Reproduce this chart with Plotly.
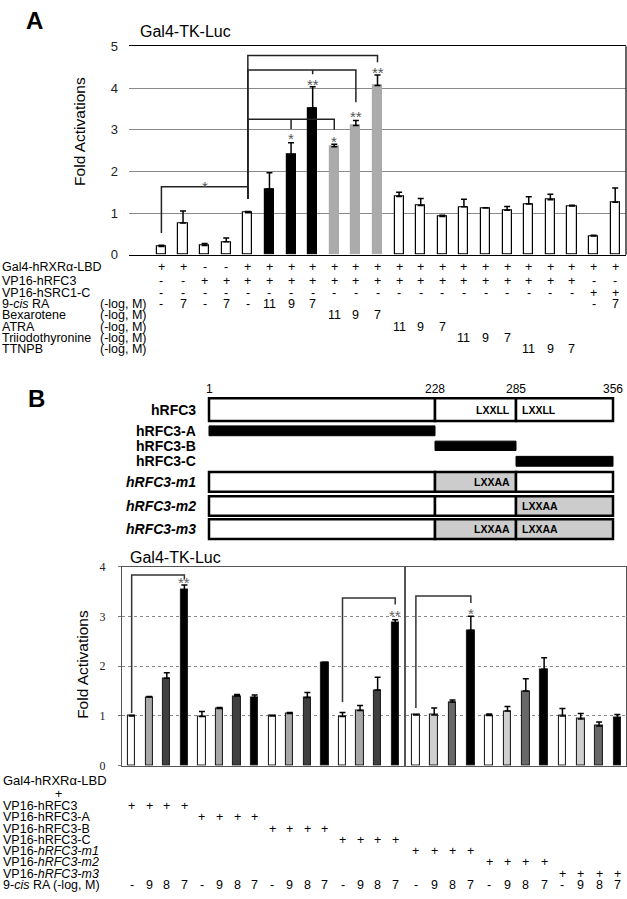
import plotly.graph_objects as go

W, H = 627, 899
FONT = "Liberation Sans, Arial, Helvetica, sans-serif"
SERIF = "Liberation Serif, Times New Roman, serif"


def px(x):
    return x / W


def py(y):
    return 1 - y / H


# ---------------- Panel A data ----------------
A_bars = list(range(1, 23))
A_vals = [0.20, 0.76, 0.22, 0.31, 1.01, 1.58, 2.40, 3.52, 2.59, 3.10, 4.06,
          1.40, 1.18, 0.92, 1.15, 1.12, 1.07, 1.22, 1.32, 1.17, 0.45, 1.26]
A_err = [0.03, 0.29, 0.05, 0.09, 0.03, 0.39, 0.29, 0.51, 0.06, 0.12, 0.25,
         0.10, 0.17, 0.03, 0.18, 0.01, 0.09, 0.17, 0.13, 0.02, 0.02, 0.34]
A_kind = ["w", "w", "w", "w", "w", "k", "k", "k", "g", "g", "g",
          "w", "w", "w", "w", "w", "w", "w", "w", "w", "w", "w"]

A_row_labels = ["Gal4-hRXR\u03b1-LBD", "VP16-hRFC3", "VP16-hSRC1-C", "9-<i>cis</i> RA",
                "Bexarotene", "ATRA", "Triiodothyronine", "TTNPB"]
A_row_units = ["", "", "", "(-log, M)", "(-log, M)", "(-log, M)", "(-log, M)", "(-log, M)"]
A_gal4 = ["+", "+", "-", "-", "+"] + ["+"] * 17
A_rfc3 = ["-", "-"] + ["+"] * 18 + ["-", "-"]
A_src1 = ["-"] * 20 + ["+", "+"]
A_cis = ["-", "7", "-", "7", "-", "11", "9", "7"] + [""] * 12 + ["-", "7"]
A_bex = [""] * 8 + ["11", "9", "7"] + [""] * 11
A_atra = [""] * 11 + ["11", "9", "7"] + [""] * 8
A_t3 = [""] * 14 + ["11", "9", "7"] + [""] * 5
A_ttnpb = [""] * 17 + ["11", "9", "7"] + [""] * 2
A_rows = [A_gal4, A_rfc3, A_src1, A_cis, A_bex, A_atra, A_t3, A_ttnpb]

# brackets: (left bar, right bar, top, left-leg bottom, right-leg bottom)
A_brackets = [(1, 5, 1.63, 0.52, 1.34), (5, 11, 4.78, 1.34, 4.62),
              (5, 10, 4.43, 1.34, 3.66), (5, 9, 3.25, 1.34, 3.00)]
A_ticks = [(8, 4.43, 4.33), (7, 3.25, 3.02)]
A_stars = [(3, 1.72, "*"), (7, 2.85, "*"), (8, 4.16, "**"), (9, 2.80, "*"),
           (10, 3.39, "**"), (11, 4.45, "**")]

# ---------------- Panel B schematic data ----------------
residues = [1, 228, 285, 356]
constructs = ["hRFC3", "hRFC3-A", "hRFC3-B", "hRFC3-C", "hRFC3-m1", "hRFC3-m2", "hRFC3-m3"]
construct_italic = [False, False, False, False, True, True, True]
motif_wt = "LXXLL"
motif_mut = "LXXAA"

# ---------------- Panel B chart data ----------------
B_bars = list(range(1, 29))
B_vals = [1.00, 1.38, 1.76, 3.53, 0.99, 1.15, 1.40, 1.37, 1.00, 1.05, 1.37, 2.08,
          0.99, 1.11, 1.52, 2.87, 1.02, 1.02, 1.28, 2.72, 1.01, 1.10, 1.50, 1.94,
          1.00, 0.94, 0.80, 0.96]
B_err = [0.01, 0.01, 0.11, 0.10, 0.10, 0.02, 0.03, 0.05, 0.01, 0.02, 0.10, 0.00,
         0.08, 0.10, 0.26, 0.06, 0.01, 0.14, 0.04, 0.28, 0.03, 0.09, 0.25, 0.23,
         0.15, 0.11, 0.08, 0.07]
B_dose = ["-", "9", "8", "7"] * 7
B_row_labels = ["VP16-hRFC3", "VP16-hRFC3-A", "VP16-hRFC3-B", "VP16-hRFC3-C",
                "VP16-<i>hRFC3-m1</i>", "VP16-<i>hRFC3-m2</i>", "VP16-<i>hRFC3-m3</i>",
                "9-<i>cis</i> RA (-log, M)"]
B_brackets = [(1, 4, 3.83, 1.06, 3.74), (13, 16, 3.37, 1.28, 3.24), (17, 20, 3.41, 1.16, 3.27)]
B_stars = [(4, 3.74, "**"), (16, 3.08, "**"), (20, 3.11, "*")]

fig = go.Figure()

# ---------- Panel A bars ----------
fillA = {"w": "white", "k": "black", "g": "#ababab"}
lineA = {"w": "black", "k": "black", "g": "#ababab"}
fig.add_trace(go.Bar(
    x=A_bars, y=A_vals, width=0.42,
    marker=dict(color=[fillA[k] for k in A_kind],
                line=dict(color=[lineA[k] for k in A_kind], width=1.2)),
    error_y=dict(type="data", array=A_err, arrayminus=[0] * len(A_err), symmetric=False,
                 color="black", thickness=1.5, width=3),
    xaxis="x", yaxis="y", showlegend=False))

# ---------- Panel B bars ----------
left_cols = ["white", "#a8a8a8", "#404040", "black"]
right_cols = ["white", "#cfcfcf", "#686868", "black"]
B_fill = []
for i in range(len(B_bars)):
    cols = left_cols if B_bars[i] <= 16 else right_cols
    B_fill.append(cols[i % 4])
for lo, hi, xa, ya in [(1, 16, "x2", "y2"), (17, 28, "x3", "y3")]:
    idx = [i for i, b in enumerate(B_bars) if lo <= b <= hi]
    fig.add_trace(go.Bar(
        x=[B_bars[i] for i in idx], y=[B_vals[i] for i in idx], width=0.42,
        marker=dict(color=[B_fill[i] for i in idx], line=dict(color="#222", width=1.1)),
        error_y=dict(type="data", array=[B_err[i] for i in idx], arrayminus=[0] * len(idx),
                     symmetric=False, color="black", thickness=1.5, width=3),
        xaxis=xa, yaxis=ya, showlegend=False))

shapes = []
ann = []


def bracket(xr, yr, x0, x1, top, b0, b1, color="#222"):
    shapes.append(dict(type="path", xref=xr, yref=yr,
                       path=f"M {x0} {b0} L {x0} {top} L {x1} {top} L {x1} {b1}",
                       line=dict(color=color, width=1.5)))


# ---------- Panel A brackets / stars ----------
for x0, x1, top, b0, b1 in A_brackets:
    bracket("x", "y", x0, x1, top, b0, b1)
for xb, y0, y1 in A_ticks:
    shapes.append(dict(type="line", xref="x", yref="y", x0=xb, x1=xb, y0=y0, y1=y1,
                       line=dict(color="#222", width=1.5)))
for xb, yv, s in A_stars:
    ann.append(dict(x=xb, y=yv, xref="x", yref="y", text=s, showarrow=False, yshift=-3,
                    font=dict(size=15, color="#555", family=FONT)))

# right frame line of panel A
shapes.append(dict(type="line", xref="x domain", yref="y domain", x0=1, x1=1, y0=0, y1=1,
                   line=dict(color="black", width=1.2)))

# ---------- Panel B brackets / stars ----------
for x0, x1, top, b0, b1 in B_brackets:
    xr, yr = ("x2", "y2") if x1 <= 16 else ("x3", "y3")
    bracket(xr, yr, x0, x1, top, b0, b1, color="#333")
for xb, yv, s in B_stars:
    xr, yr = ("x2", "y2") if xb <= 16 else ("x3", "y3")
    ann.append(dict(x=xb, y=yv, xref=xr, yref=yr, text=s, showarrow=False, yshift=-3,
                    font=dict(size=15, color="#666", family=FONT)))

# ---------- Panel A table ----------
A_row_y = [264.3, 279.0, 290.7, 302.3, 313.5, 325.0, 336.2, 347.3]
for r, lab in enumerate(A_row_labels):
    ann.append(dict(x=px(0), y=py(A_row_y[r]), xref="paper", yref="paper", text=lab,
                    xanchor="left", yanchor="middle", showarrow=False,
                    font=dict(size=12.5, color="black", family=FONT)))
    if A_row_units[r]:
        ann.append(dict(x=px(98), y=py(A_row_y[r]), xref="paper", yref="paper",
                        text=A_row_units[r], xanchor="left", yanchor="middle", showarrow=False,
                        font=dict(size=12.5, color="black", family=FONT)))
    for b, v in zip(A_bars, A_rows[r]):
        if v:
            ann.append(dict(x=b, y=py(A_row_y[r]), xref="x", yref="paper", text=v,
                            xanchor="center", yanchor="middle", showarrow=False,
                            font=dict(size=12.5, color="black", family=FONT)))

# ---------- Panel B schematic ----------
seg_px = [209, 435, 516, 613]  # display positions of residue boundaries (not to scale)
for r, xv in zip(residues, seg_px):
    ann.append(dict(x=px(xv), y=py(388), xref="paper", yref="paper", text=str(r),
                    showarrow=False, xanchor="center", yanchor="middle",
                    font=dict(size=12, color="black", family=FONT)))

rows_geom = {  # (top, bottom) in px
    "hRFC3": (398, 421), "hRFC3-A": (426, 436), "hRFC3-B": (441.5, 451), "hRFC3-C": (457, 467),
    "hRFC3-m1": (473, 493), "hRFC3-m2": (497.5, 517.5), "hRFC3-m3": (521, 541)}
row_fill = {"hRFC3": ["white", "white", "white"], "hRFC3-m1": ["white", "#cccccc", "white"],
            "hRFC3-m2": ["white", "white", "#cccccc"], "hRFC3-m3": ["white", "#cccccc", "#cccccc"]}
row_motif = {"hRFC3": [None, motif_wt, motif_wt], "hRFC3-m1": [None, motif_mut, None],
             "hRFC3-m2": [None, None, motif_mut], "hRFC3-m3": [None, motif_mut, motif_mut]}
fragment_seg = {"hRFC3-A": 0, "hRFC3-B": 1, "hRFC3-C": 2}

for name, ital in zip(constructs, construct_italic):
    top, bot = rows_geom[name]
    yc = (top + bot) / 2
    txt = f"<b><i>{name}</i></b>" if ital else f"<b>{name}</b>"
    ann.append(dict(x=px(198), y=py(yc), xref="paper", yref="paper", text=txt,
                    xanchor="right", yanchor="middle", showarrow=False,
                    font=dict(size=14, color="black", family=FONT)))
    if name in fragment_seg:
        s = fragment_seg[name]
        shapes.append(dict(type="rect", xref="paper", yref="paper",
                           x0=px(seg_px[s]), x1=px(seg_px[s + 1]), y0=py(bot), y1=py(top),
                           fillcolor="black", line=dict(color="black", width=1)))
    else:
        for s in range(3):
            shapes.append(dict(type="rect", xref="paper", yref="paper",
                               x0=px(seg_px[s]), x1=px(seg_px[s + 1]), y0=py(bot), y1=py(top),
                               fillcolor=row_fill[name][s], line=dict(color="black", width=2.5)))
            m = row_motif[name][s]
            if m:
                if s == 1:
                    ann.append(dict(x=px(seg_px[2] - 4), y=py(yc), xref="paper", yref="paper",
                                    text=f"<b>{m}</b>", xanchor="right", yanchor="middle",
                                    showarrow=False, font=dict(size=10.5, color="black", family=FONT)))
                else:
                    ann.append(dict(x=px(seg_px[2] + 4), y=py(yc), xref="paper", yref="paper",
                                    text=f"<b>{m}</b>", xanchor="left", yanchor="middle",
                                    showarrow=False, font=dict(size=10.5, color="black", family=FONT)))

# ---------- Panel B table ----------
TB = 12.5
ann.append(dict(x=px(1), y=py(786.7), xref="paper", yref="paper", text="Gal4-hRXR\u03b1-LBD",
                xanchor="left", yanchor="middle", showarrow=False,
                font=dict(size=13, color="black", family=FONT)))
ann.append(dict(x=px(58), y=py(800.5), xref="paper", yref="paper", text="+",
                xanchor="center", yanchor="middle", showarrow=False,
                font=dict(size=TB, color="black", family=FONT)))
B_row_y = [812.3, 824.0, 835.5, 847.0, 858.5, 870.0, 881.3, 893.3]
for r, lab in enumerate(B_row_labels):
    ann.append(dict(x=px(1), y=py(B_row_y[r]), xref="paper", yref="paper", text=lab,
                    xanchor="left", yanchor="middle", showarrow=False,
                    font=dict(size=TB, color="black", family=FONT)))
for i, b in enumerate(B_bars):
    xr = "x2" if b <= 16 else "x3"
    construct_row = (b - 1) // 4
    ann.append(dict(x=b, y=py(B_row_y[construct_row]), xref=xr, yref="paper", text="+",
                    xanchor="center", yanchor="middle", showarrow=False,
                    font=dict(size=TB, color="black", family=FONT)))
    ann.append(dict(x=b, y=py(B_row_y[7]), xref=xr, yref="paper", text=B_dose[i],
                    xanchor="center", yanchor="middle", showarrow=False,
                    font=dict(size=TB, color="black", family=FONT)))

# ---------- Titles / letters ----------
ann += [
    dict(x=px(34), y=py(14), xref="paper", yref="paper", text="<b>A</b>", showarrow=False,
         xanchor="center", yanchor="middle", font=dict(size=24, color="black", family=FONT)),
    dict(x=px(36), y=py(398), xref="paper", yref="paper", text="<b>B</b>", showarrow=False,
         xanchor="center", yanchor="middle", font=dict(size=24, color="black", family=FONT)),
    dict(x=px(138), y=py(25), xref="paper", yref="paper", text="Gal4-TK-Luc", showarrow=False,
         xanchor="left", yanchor="middle", font=dict(size=16, color="black", family=FONT)),
    dict(x=px(128), y=py(560), xref="paper", yref="paper", text="Gal4-TK-Luc", showarrow=False,
         xanchor="left", yanchor="middle", font=dict(size=16, color="black", family=FONT)),
    dict(x=px(80), y=py(127), xref="paper", yref="paper", text="Fold Activations", showarrow=False,
         textangle=-90, xanchor="center", yanchor="middle",
         font=dict(size=15.5, color="black", family=FONT)),
    dict(x=px(83), y=py(668), xref="paper", yref="paper", text="Fold Activations", showarrow=False,
         textangle=-90, xanchor="center", yanchor="middle",
         font=dict(size=15.5, color="black", family=FONT)),
]

yB = [py(771.7), py(569)]
fig.update_layout(
    width=W, height=H, margin=dict(l=0, r=0, t=0, b=0),
    paper_bgcolor="white", plot_bgcolor="white", bargap=0,
    font=dict(family=FONT, color="black"),
    shapes=shapes, annotations=ann,
    xaxis=dict(domain=[px(129), px(626)], range=[-0.5, 22.5], showticklabels=False,
               ticks="", showgrid=False, zeroline=False, showline=True, mirror=True,
               linecolor="black", linewidth=1.2),
    yaxis=dict(domain=[py(252), py(40)], range=[0, 5], tickvals=[0, 1, 2, 3, 4, 5],
               showgrid=True, gridcolor="#8a8a8a", gridwidth=1, zeroline=False,
               showline=False, ticks="", ticklabelstandoff=10,
               tickfont=dict(size=13, color="#222", family=FONT)),
    xaxis2=dict(domain=[px(122), px(404)], range=[0.45, 16.5], showticklabels=False,
                ticks="", showgrid=False, zeroline=False, showline=True, mirror=True,
                linecolor="#555", linewidth=1.2, anchor="y2"),
    yaxis2=dict(domain=yB, range=[0, 4], tickvals=[0, 1, 2, 3, 4], anchor="x2",
                showgrid=True, gridcolor="#8a8a8a", griddash="dot", gridwidth=1.2,
                zeroline=False, showline=True, mirror=True, linecolor="#555", linewidth=1.2,
                ticks="outside", ticklen=3, tickcolor="#777", ticklabelstandoff=10,
                tickfont=dict(size=12, color="#222", family=SERIF)),
    xaxis3=dict(domain=[px(406), px(626)], range=[16.46, 28.47], showticklabels=False,
                ticks="", showgrid=False, zeroline=False, showline=True, mirror=True,
                linecolor="#555", linewidth=1.2, anchor="y3"),
    yaxis3=dict(domain=yB, range=[0, 4], tickvals=[1, 2, 3], anchor="x3",
                showticklabels=False, showgrid=True, gridcolor="#8a8a8a", griddash="dot",
                gridwidth=1.2, zeroline=False, showline=True, mirror=True, linecolor="#555",
                linewidth=1.2, ticks=""),
)

fig.write_html(
    "out.html",
    config={"displayModeBar": False},
    post_script="document.body.style.margin='0px';document.body.style.padding='0px';"
                "document.documentElement.style.overflow='hidden';",
)
